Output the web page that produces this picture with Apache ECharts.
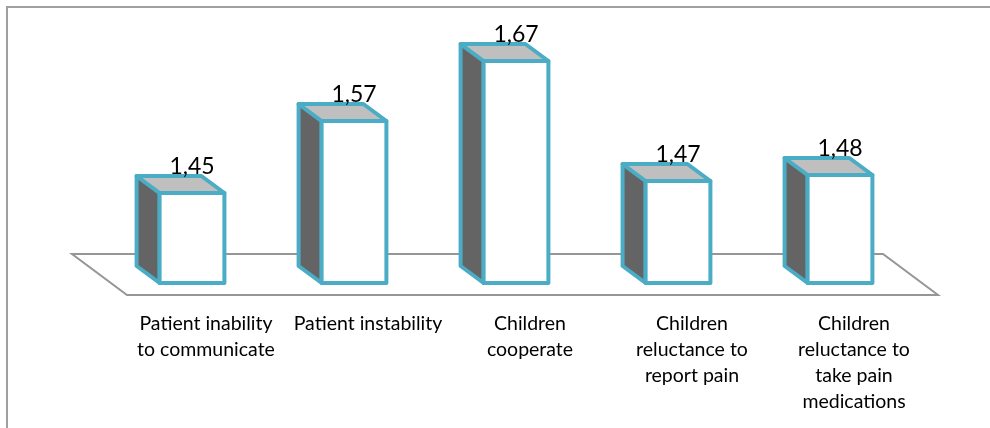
<!DOCTYPE html>
<html>
<head>
<meta charset="utf-8">
<title>Chart</title>
<script src="https://cdn.jsdelivr.net/npm/echarts@6/dist/echarts.min.js"></script>
<style>
  html, body { margin: 0; padding: 0; background: #fff; }
  #chart { width: 990px; height: 428px; }
</style>
</head>
<body>
<div id="chart"></div>
<script>
const categories = [
  'Patient inability\nto communicate',
  'Patient instability',
  'Children\ncooperate',
  'Children\nreluctance to\nreport pain',
  'Children\nreluctance to\ntake pain\nmedications'
];
const values = [1.45, 1.57, 1.67, 1.47, 1.48];
const yMin = 1.3;
const yMax = 1.7;

const fontName = 'Lato, "Open Sans", sans-serif';
const blue = '#4bacc6';
const lineGrey = '#969696';

// fake 3d box, depth goes back and to the left
const depthX = -23;
const depthY = -17;
const shiftX = -14;

function renderBox(params, api) {
  const top = api.coord([api.value(0), api.value(1)]);
  const base = api.coord([api.value(0), yMin]);
  const w = api.size([1, 0])[0] * 0.4;
  const x0 = top[0] + shiftX - w / 2;
  const x1 = x0 + w;
  const y0 = top[1];
  const y1 = base[1];
  const stroke = { stroke: blue, lineWidth: 4, lineJoin: 'round' };
  const face = (points, fill) => ({
    type: 'polygon',
    shape: { points: points },
    style: Object.assign({ fill: fill }, stroke)
  });
  return {
    type: 'group',
    children: [
      face([[x0, y0], [x0 + depthX, y0 + depthY], [x0 + depthX, y1 + depthY], [x0, y1]], '#646464'),
      face([[x0, y0], [x1, y0], [x1 + depthX, y0 + depthY], [x0 + depthX, y0 + depthY]], '#bfbfbf'),
      face([[x0, y0], [x1, y0], [x1, y1], [x0, y1]], '#ffffff'),
      {
        type: 'text',
        z2: 10,
        style: {
          text: String(api.value(1)).replace('.', ','),
          x: (x0 + x1) / 2,
          y: y0 - 26,
          align: 'center',
          verticalAlign: 'middle',
          fill: '#000',
          font: '23px ' + fontName
        }
      }
    ]
  };
}

// floor under the boxes, tied to the plot area
function renderFloor(params) {
  const g = params.coordSys;
  const left = g.x;
  const right = g.x + g.width;
  const bottom = g.y + g.height;
  return {
    type: 'polygon',
    shape: {
      points: [
        [left - 53, bottom - 29],
        [right - 52, bottom - 29],
        [right + 3, bottom + 12],
        [left + 2, bottom + 12]
      ]
    },
    style: { fill: '#fff', stroke: lineGrey, lineWidth: 2 }
  };
}

const chart = echarts.init(document.getElementById('chart'));
chart.setOption({
  backgroundColor: '#fff',
  animation: false,
  grid: { left: 125, right: 55, top: 43, bottom: 145 },
  xAxis: {
    type: 'category',
    data: categories,
    axisLine: { show: false },
    axisTick: { show: false },
    axisLabel: {
      interval: 0,
      margin: 28,
      color: '#000',
      fontFamily: fontName,
      fontSize: 19.5,
      lineHeight: 26
    }
  },
  yAxis: { type: 'value', min: yMin, max: yMax, show: false },
  graphic: [{
    type: 'polyline',
    silent: true,
    shape: { points: [[7, 428], [7, 7], [990, 7]] },
    style: { fill: null, stroke: '#a0a0a0', lineWidth: 2 }
  }],
  series: [
    {
      type: 'custom',
      z: 1,
      clip: false,
      silent: true,
      renderItem: renderFloor,
      encode: { x: 0, y: 1 },
      data: [[0, yMin]]
    },
    {
      type: 'custom',
      z: 2,
      clip: false,
      silent: true,
      renderItem: renderBox,
      encode: { x: 0, y: 1 },
      data: values.map((v, i) => [i, v])
    }
  ]
});
</script>
</body>
</html>
